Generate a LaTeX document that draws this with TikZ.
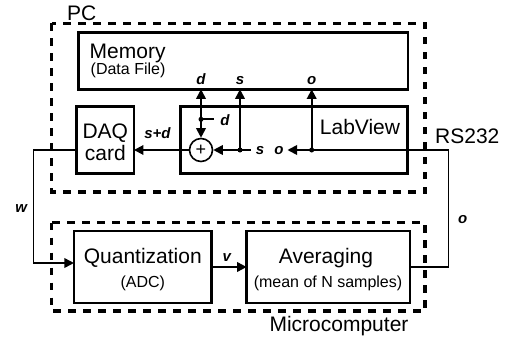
\documentclass[tikz,border=0pt]{standalone}
\usepackage{fontspec}
\setmainfont{Liberation Sans}
\usetikzlibrary{arrows.meta}
\begin{document}
\begin{tikzpicture}[x=1pt,y=-1pt,
  blk/.style={draw,line width=2.6pt,inner sep=0pt,outer sep=0pt},
  grp/.style={draw,line width=3.5pt,dash pattern=on 7.5pt off 7.5pt},
  big/.style={font=\fontsize{21}{24}\selectfont,inner sep=0pt},
  small/.style={font=\fontsize{16}{19}\selectfont,inner sep=0pt},
  lbl/.style={font=\fontsize{15}{18}\selectfont\bfseries\itshape,inner sep=0pt},
  wire/.style={line width=1.8pt},
  thinwire/.style={line width=1.2pt},
  arr/.style={-{Triangle[length=9.5pt,width=9.5pt]}},
  dot/.style={circle,fill,inner sep=0pt,minimum size=5pt}]
\useasboundingbox (0,0) rectangle (509,340);
% group frames
\draw[grp] (51.7,23.3) rectangle (425,192);
\draw[grp] (51.7,222.7) rectangle (425,311);
% blocks
\node[blk,minimum width=329.5pt,minimum height=56.6pt] (mem) at (243.2,61) {};
\node[blk,minimum width=57.3pt,minimum height=66.6pt] (daq) at (105.3,140) {};
\node[blk,minimum width=226.8pt,minimum height=66.6pt] (lab) at (294,140) {};
\node[blk,minimum width=137.7pt,minimum height=72pt] (quant) at (142.8,267) {};
\node[blk,minimum width=163.3pt,minimum height=72pt] (avg) at (328.3,267) {};
% texts
\node[big,anchor=base west] (pct) at (67,20) {PC};
\node[big,anchor=base west] (memt) at (89.5,58) {Memory};
\node[small,anchor=base west] (memt2) at (90.5,74.5) {(Data File)};
\node[big,anchor=base] (labt) at (360,134.3) {LabView};
\node[big,anchor=base west] (rst) at (435,143.3) {RS232};
\node[big,anchor=base] (daqt1) at (105.3,138) {DAQ};
\node[big,anchor=base] (daqt2) at (105.3,160) {card};
\node[big,anchor=base] (quantt1) at (142.8,263.3) {Quantization};
\node[small,anchor=base] (quantt2) at (142.8,287) {(ADC)};
\node[big,anchor=base] (avgt1) at (326,263) {Averaging};
\node[small,anchor=base] (avgt2) at (328,287) {(mean of N samples)};
\node[big,anchor=base] (mct) at (339,331) {Microcomputer};
% summing junction
\node[circle,draw,line width=1.6pt,minimum size=23pt,inner sep=0pt,font=\fontsize{18}{18}\selectfont] (sum) at (201,150) {+};
% junctions
\node[dot] (dd) at (201,119.3) {};
\node[dot] (sj) at (240,150) {};
\node[dot] (oj) at (311.7,150) {};
\coordinate (dstub) at (214,119.3);
\coordinate (sstub) at (251,150);
\coordinate (oend) at (287.5,150);
\coordinate (rsc) at (448.5,150);
\coordinate (wc) at (33.3,150);
\coordinate (wc2) at (33.3,263);
% internal connectors
\draw[wire,arr] (dd.center) -- (dd |- mem.south);
\draw[wire,arr] (dd.center) -- (sum.north);
\draw[wire] (dd.center) -- (dstub);
\draw[wire,arr] (sj.center) -- (sj |- mem.south);
\draw[wire,arr] (sj.center) -- (sum.east);
\draw[wire] (sj.center) -- (sstub);
\draw[wire,arr] (oj.center) -- (oj |- mem.south);
\draw[wire,arr] (oj.center) -- (oend);
\draw[wire,arr] (sum.west) -- (sum.west -| daq.east);
\draw[wire,arr] (quant.east) -- (avg.west);
% external wires
\draw[thinwire] (oj.center) -- (rsc) |- (avg.east);
\draw[thinwire] (daq.west |- wc) -- (wc) -- (wc2);
\draw[wire,arr] (wc2) -- (wc2 -| quant.west);
% labels
\node[lbl,anchor=base] (ld1) at (201,84.5) {d};
\node[lbl,anchor=base] (ls1) at (240,84.5) {s};
\node[lbl,anchor=base] (lo1) at (311.7,84.5) {o};
\node[lbl,anchor=base] (ld2) at (225,125) {d};
\node[lbl,anchor=base] (ls2) at (260,154) {s};
\node[lbl,anchor=base] (lo2) at (279,154) {o};
\node[lbl,anchor=base] (lsd) at (157.5,138.3) {s+d};
\node[lbl,anchor=base] (lw) at (21.3,212) {w};
\node[lbl,anchor=base] (lv) at (226.7,261.7) {v};
\node[lbl,anchor=base] (lo3) at (462.8,223.3) {o};
\end{tikzpicture}
\end{document}
